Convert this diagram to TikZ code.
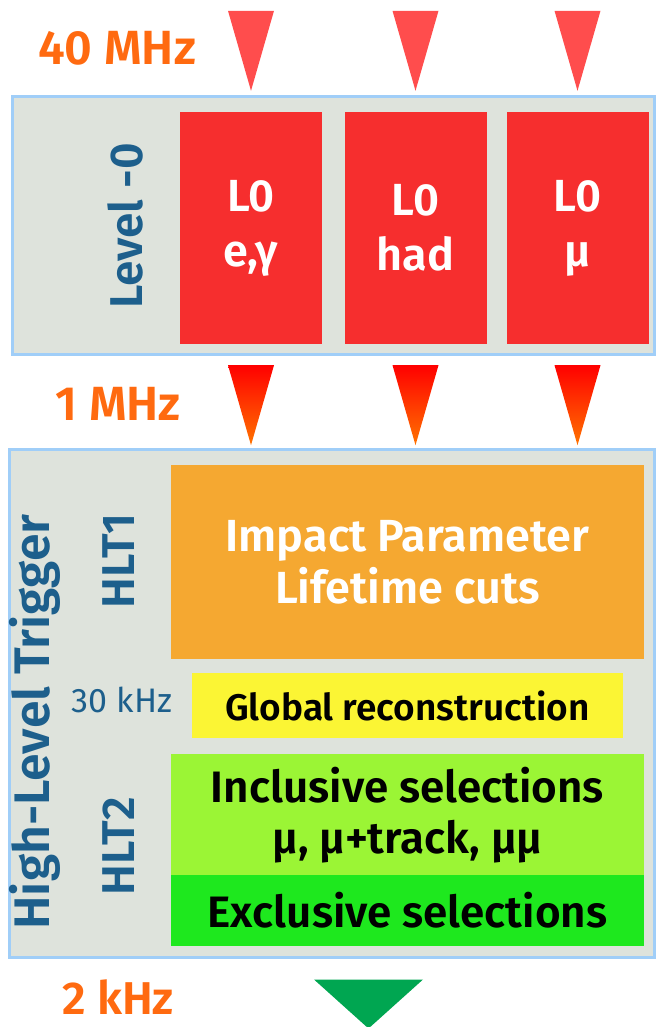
\documentclass[tikz,border=0pt]{standalone}
\usepackage{fontspec}
\setmainfont{Fira Sans}[BoldFont={Fira Sans SemiBold}]
\usetikzlibrary{calc,positioning}
\definecolor{RateOrange}{HTML}{FF6A10}
\definecolor{LabelBlue}{HTML}{1D5F8C}
\definecolor{FrameBlue}{HTML}{A0CEF8}
\definecolor{PanelGray}{HTML}{DEE3DC}
\definecolor{LZeroRed}{HTML}{F62E2E}
\definecolor{InRed}{HTML}{FF4D4D}
\definecolor{HltOrange}{HTML}{F5A831}
\definecolor{RecoYellow}{HTML}{FBF534}
\definecolor{InclGreen}{HTML}{9BF535}
\definecolor{ExclGreen}{HTML}{1EE81E}
\definecolor{OutGreen}{HTML}{00A651}
\newcommand{\fsz}[1]{\fontsize{#1}{#1}\selectfont}

\begin{document}
\begin{tikzpicture}[x=1pt,y=-1pt,
	Panel/.style={rectangle,draw=FrameBlue,fill=PanelGray,line width=3pt,inner sep=0pt},
	LBox/.style={rectangle,fill=LZeroRed,text=white,align=center,inner sep=0pt,
		minimum width=142pt,minimum height=232pt,font=\fontsize{45}{55}\selectfont\bfseries},
	Step/.style={rectangle,inner sep=0pt,align=center,minimum width=473pt,font=\bfseries},
	Rate/.style={text=RateOrange,inner sep=0pt,font=\fsz{48}\bfseries},
	Side/.style={text=LabelBlue,rotate=90,font=\fsz{46}\bfseries},
]
	\useasboundingbox (0,0) rectangle (656,1027);

	% level 0
	\node[Panel, minimum width=642pt, minimum height=257pt] (lvl0) at (333,225.5) {};
	\node[LBox] (eg) at (251,228) {L0\\e,γ};
	\node[LBox] (had) at (415.5,228) {L0\\had};
	\node[LBox] (mu) at (577.5,228) {L0\\μ};
	\node[Side] (lvl0txt) at (125,226) {Level -0};

	% high level trigger
	\node[Panel, minimum width=645pt, minimum height=508pt] (hlt) at (331.5,703) {};
	\node[Step, fill=HltOrange, text=white, minimum height=194pt,
		font=\fontsize{45}{52}\selectfont\bfseries] (ip) at (407.5,562) {Impact Parameter\\Lifetime cuts};
	\node[Step, fill=RecoYellow, minimum width=431pt, minimum height=65pt,
		font=\fsz{37}\bfseries] (reco) at (407.5,705.5) {Global reconstruction};
	\node[Step, fill=InclGreen, minimum height=123pt,
		font=\fontsize{44}{51}\selectfont\bfseries] (incl) at (407.5,815) {Inclusive selections\\μ, μ+track, μμ};
	\node[Step, fill=ExclGreen, minimum height=71pt,
		font=\fsz{44}\bfseries] (excl) at (407.5,910.5) {Exclusive selections};
	\node[Side] (hlt1) at (119,561) {HLT1};
	\node[Side] (hlt2) at (119,846) {HLT2};
	\node[Side, font=\fsz{50}\bfseries] (hlttxt) at (35,722) {High-Level Trigger};
	\node[text=LabelBlue, font=\fsz{34}] (r30) at (122,700) {30 kHz};

	% rates
	\node[Rate] (r40) at (117,48) {40 MHz};
	\node[Rate] (r1) at (118,404) {1 MHz};
	\node[Rate, font=\fsz{46}\bfseries] (r2) at (118,997) {2 kHz};

	\foreach \b in {eg,had,mu}{
		\fill[InRed] ($(\b.north)+(-23,-101)$) -- ($(\b.north)+(23,-101)$) -- ($(\b.north)+(0,-21)$) -- cycle;
		\shade[top color=red, bottom color=orange!90!red] ($(\b.south)+(-23,21)$) -- ($(\b.south)+(23,21)$) -- ($(\b.south)+(0,101)$) -- cycle;
	}
	\fill[OutGreen] ($(hlt.south)+(-17.5,21)$) -- ($(hlt.south)+(91.5,21)$) -- ($(hlt.south)+(37,70)$) -- cycle;
\end{tikzpicture}
\end{document}
